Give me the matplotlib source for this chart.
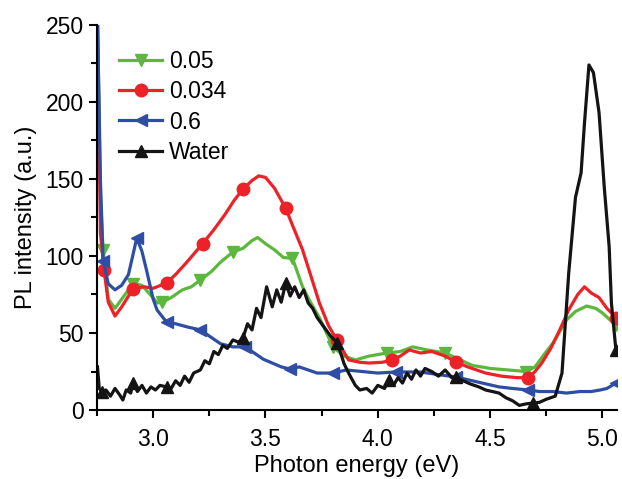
import matplotlib.pyplot as plt
from matplotlib.ticker import MultipleLocator

plt.rcParams['font.family'] = ['Liberation Sans', 'DejaVu Sans']

# 0.034 (red)
x_red = [2.752, 2.765, 2.781, 2.80, 2.83, 2.86, 2.89, 2.91, 2.96, 3.00, 3.06, 3.10, 3.15,
         3.22, 3.27, 3.32, 3.36, 3.40, 3.44, 3.47, 3.50, 3.54, 3.59, 3.62, 3.665, 3.70,
         3.74, 3.78, 3.817, 3.87, 3.92, 3.96, 4.02, 4.065, 4.10, 4.14, 4.19, 4.24, 4.30,
         4.35, 4.40, 4.48, 4.55, 4.62, 4.67, 4.70, 4.73, 4.77, 4.81, 4.85, 4.89, 4.92,
         4.95, 4.985, 5.02, 5.06]
y_red = [255, 115, 91, 70, 61, 67, 74, 78.6, 80, 79, 82.5, 88, 96,
         108, 117, 127, 136, 143.5, 149, 152, 151, 144, 131, 120, 104, 88,
         69.5, 55, 45.5, 32.5, 31, 30.5, 31, 32.5, 35, 39, 37, 38, 35,
         31, 28, 24, 22, 21, 21, 25, 30.5, 40, 52, 65, 75, 80,
         76, 73, 66, 60]
mk_red = [2, 7, 10, 13, 17, 22, 28, 33, 39, 44, 55]

# 0.05 (green)
x_green = [2.752, 2.765, 2.777, 2.80, 2.83, 2.87, 2.91, 2.95, 2.98, 3.02, 3.04, 3.08, 3.13,
           3.17, 3.21, 3.26, 3.30, 3.355, 3.40, 3.44, 3.465, 3.50, 3.54, 3.58, 3.62, 3.665,
           3.70, 3.74, 3.80, 3.85, 3.90, 3.96, 4.04, 4.10, 4.155, 4.22, 4.30, 4.36, 4.42,
           4.50, 4.58, 4.66, 4.70, 4.74, 4.78, 4.84, 4.88, 4.93, 4.97, 5.00, 5.06]
y_green = [255, 140, 104, 72, 66, 74, 82, 81, 76, 69.5, 70, 73, 78,
           80, 84.4, 90, 96, 102.6, 105, 110, 112, 108, 104, 99, 98.5, 80,
           70, 60, 41, 35, 32.5, 35, 37, 38, 41, 39, 37, 33, 29,
           27, 26, 25, 28, 36, 43.5, 58.4, 64, 67.5, 66, 63, 55]
mk_green = [2, 6, 10, 14, 17, 24, 28, 32, 36, 41, 50]

# 0.6 (blue)
x_blue = [2.752, 2.765, 2.777, 2.80, 2.83, 2.86, 2.89, 2.927, 2.95, 2.97, 3.00, 3.017, 3.06,
          3.10, 3.15, 3.21, 3.26, 3.30, 3.355, 3.41, 3.45, 3.49, 3.53, 3.57, 3.61, 3.65,
          3.73, 3.80, 3.86, 3.93, 4.00, 4.08, 4.19, 4.27, 4.35, 4.45, 4.54, 4.60, 4.67,
          4.72, 4.78, 4.84, 4.90, 4.95, 4.99, 5.02, 5.06]
y_blue = [255, 150, 97, 82, 78, 81, 88, 111.7, 103, 91, 72, 65, 57,
          56, 54, 52, 47, 43, 41, 41, 37, 33, 30.5, 28, 26.6, 28,
          24, 24, 26, 25, 24, 24.7, 24.7, 23, 21.4, 18, 15, 14, 13,
          12, 12, 11, 12, 12, 13, 14, 17.5]
mk_blue = [2, 7, 12, 15, 19, 24, 27, 31, 34, 38, 46]

# Water (black)
x_water = [2.752, 2.76, 2.77, 2.79, 2.81, 2.83, 2.85, 2.865, 2.88, 2.90, 2.91, 2.93, 2.95,
           2.97, 2.99, 3.01, 3.03, 3.06, 3.08, 3.10, 3.12, 3.14, 3.16, 3.18, 3.21, 3.23,
           3.25, 3.27, 3.29, 3.31, 3.33, 3.355, 3.38, 3.40, 3.42, 3.44, 3.46, 3.48, 3.505,
           3.53, 3.55, 3.57, 3.59, 3.61, 3.63, 3.65, 3.67, 3.69, 3.71, 3.73, 3.76, 3.79,
           3.82, 3.85, 3.87, 3.90, 3.92, 3.95, 3.975, 4.00, 4.03, 4.05, 4.07, 4.09, 4.11,
           4.13, 4.15, 4.17, 4.19, 4.21, 4.24, 4.27, 4.30, 4.33, 4.35, 4.38, 4.41, 4.45,
           4.48, 4.51, 4.54, 4.57, 4.60, 4.63, 4.66, 4.69, 4.72, 4.75, 4.79, 4.82, 4.85,
           4.88, 4.905, 4.92, 4.94, 4.96, 4.985, 5.008, 5.03, 5.04, 5.06]
y_water = [28, 14, 12, 13, 9, 14, 10, 6.5, 13, 11, 17.5, 12, 16,
           11, 15, 13, 16, 15, 14, 19, 16, 22, 18, 24, 26, 32,
           30, 38, 36, 42, 40, 45.5, 44, 47, 56, 52, 66, 60, 80,
           67, 78, 70, 82.5, 74, 80, 73, 78, 69.5, 66, 60, 54, 48,
           43.5, 30, 24, 16, 13, 14, 11, 16, 14, 19.5, 16, 21, 17.5,
           24, 20, 26, 22, 27, 25, 22, 26, 21, 21.4, 19, 17, 15,
           13, 12, 11, 8, 6, 3, 4, 4.5, 5, 7, 9, 24, 89,
           138, 154, 186, 224, 219, 193, 145, 106, 69.5, 39]
mk_water = [2, 10, 17, 33, 42, 52, 61, 74, 85, 100]

fig, ax = plt.subplots(figsize=(6.22, 4.79), dpi=100)
fig.subplots_adjust(left=0.156, right=0.992, bottom=0.144, top=0.948)

ax.plot(x_green, y_green, color='#5cb83c', lw=2.3, marker='v', ms=9, markevery=mk_green, label='0.05')
ax.plot(x_red, y_red, color='#ec2228', lw=2.3, marker='o', ms=9, markevery=mk_red, label='0.034')
ax.plot(x_blue, y_blue, color='#2e4ea6', lw=2.3, marker='<', ms=9, markevery=mk_blue, label='0.6')
ax.plot(x_water, y_water, color='#141414', lw=2.3, marker='^', ms=9, markevery=mk_water, label='Water')

ax.set_xlim(2.75, 5.065)
ax.set_ylim(0, 250)
ax.xaxis.set_major_locator(MultipleLocator(0.5))
ax.xaxis.set_minor_locator(MultipleLocator(0.25))
ax.yaxis.set_major_locator(MultipleLocator(50))
ax.yaxis.set_minor_locator(MultipleLocator(25))
ax.xaxis.set_major_formatter(lambda v, p: f"{v:.1f}")
ax.spines['top'].set_visible(False)
ax.spines['right'].set_visible(False)
ax.spines['left'].set_linewidth(1.5)
ax.spines['bottom'].set_linewidth(1.5)
ax.tick_params(which='both', direction='out', width=1.5, labelsize=16.5)
ax.tick_params(axis='x', pad=7)
ax.tick_params(which='major', length=6)
ax.tick_params(which='minor', length=4)

ax.set_xlabel('Photon energy (eV)', fontsize=17, labelpad=3)
ax.set_ylabel('PL intensity (a.u.)', fontsize=17, labelpad=6)

ax.legend(loc='upper left', bbox_to_anchor=(0.02, 0.965), frameon=False, fontsize=16.5,
          handlelength=1.9, handletextpad=0.3, labelspacing=0.32, borderpad=0)

fig.savefig('out.png', dpi=100)
